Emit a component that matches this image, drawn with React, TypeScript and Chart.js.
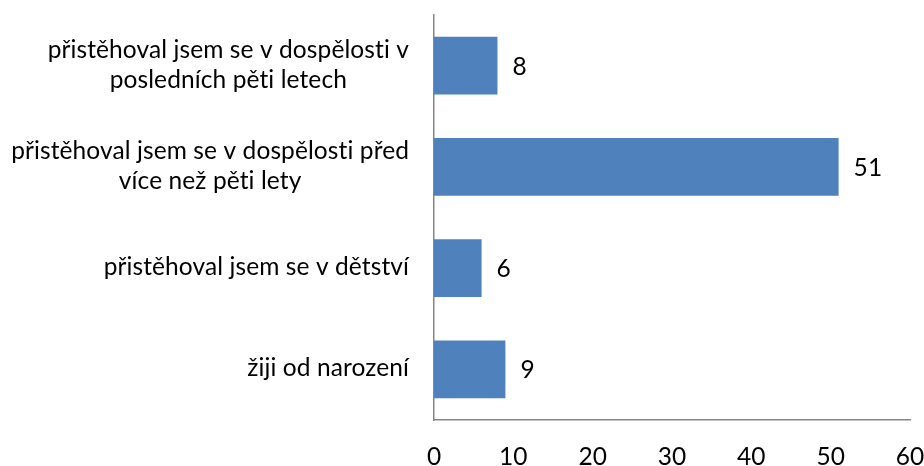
import React, { useEffect, useRef } from "react";
import { Chart, registerables } from "chart.js";

Chart.register(...registerables);

const categories: string[][] = [
  ["přistěhoval jsem se v dospělosti v", "posledních pěti letech"],
  ["přistěhoval jsem se v dospělosti před", "více než pěti lety"],
  ["přistěhoval jsem se v dětství"],
  ["žiji od narození"],
];
const values: number[] = [8, 51, 6, 9];
const xTicks: number[] = [0, 10, 20, 30, 40, 50, 60];

const FONT = "Lato, 'Open Sans', sans-serif";
const FONT_SIZE = 24.5;

const labelsPlugin = {
  id: "customLabels",
  afterDraw(chart: any) {
    const ctx = chart.ctx;
    const y = chart.scales.y;
    const xs = chart.scales.x;
    ctx.save();
    ctx.font = `${FONT_SIZE}px ${FONT}`;
    try {
      (ctx as any).letterSpacing = "0.1px";
    } catch (e) {}
    ctx.fillStyle = "#000";
    ctx.textBaseline = "middle";
    const lineH = 30;
    const right = chart.chartArea.left - 25;
    (chart.data.labels as string[][]).forEach((lines, i) => {
      const cy = y.getPixelForTick(i);
      const widest = Math.max(...lines.map((l) => ctx.measureText(l).width));
      const cx = right - widest / 2;
      ctx.textAlign = "center";
      lines.forEach((l, k) => {
        const ly = cy + (k - (lines.length - 1) / 2) * lineH - 1;
        ctx.fillText(l, cx, ly);
      });
    });
    const meta = chart.getDatasetMeta(0);
    ctx.textAlign = "left";
    meta.data.forEach((bar: any, i: number) => {
      const v = chart.data.datasets[0].data[i] as number;
      ctx.fillText(String(v), xs.getPixelForValue(v) + 15, bar.y + 1);
    });
    ctx.restore();
  },
};

export default function App() {
  const ref = useRef<HTMLCanvasElement | null>(null);
  useEffect(() => {
    document.body.style.margin = "0";
    if (!ref.current) return;
    const chart = new Chart(ref.current, {
      type: "bar",
      data: {
        labels: categories as any,
        datasets: [
          {
            data: values,
            backgroundColor: "#4F81BD",
            borderWidth: 0,
            categoryPercentage: 1,
            barPercentage: 0.57,
          },
        ],
      },
      options: {
        indexAxis: "y",
        animation: false,
        responsive: false,
        maintainAspectRatio: false,
        layout: { padding: { top: 15, right: 14, left: 434, bottom: 0 } },
        plugins: {
          legend: { display: false },
          tooltip: { enabled: false },
        },
        scales: {
          x: {
            min: 0,
            max: 60,
            afterBuildTicks: (s: any) => {
              s.ticks = xTicks.map((v) => ({ value: v }));
            },
            afterFit: (s: any) => {
              s.height = 46;
              s.paddingRight = 0;
              s.paddingLeft = 0;
            },
            grid: { display: false, drawTicks: false },
            border: { display: true, color: "#868686", width: 1.5 },
            ticks: {
              color: "#000",
              padding: 22,
              maxRotation: 0,
              font: { family: FONT, size: FONT_SIZE },
            },
          },
          y: {
            afterFit: (s: any) => {
              s.width = 0;
            },
            grid: { display: false, drawTicks: false },
            border: { display: true, color: "#868686", width: 1.5 },
            ticks: { display: false },
          },
        },
      },
      plugins: [labelsPlugin],
    });
    return () => chart.destroy();
  }, []);
  return <canvas ref={ref} width={924} height={466} style={{ display: "block" }} />;
}
